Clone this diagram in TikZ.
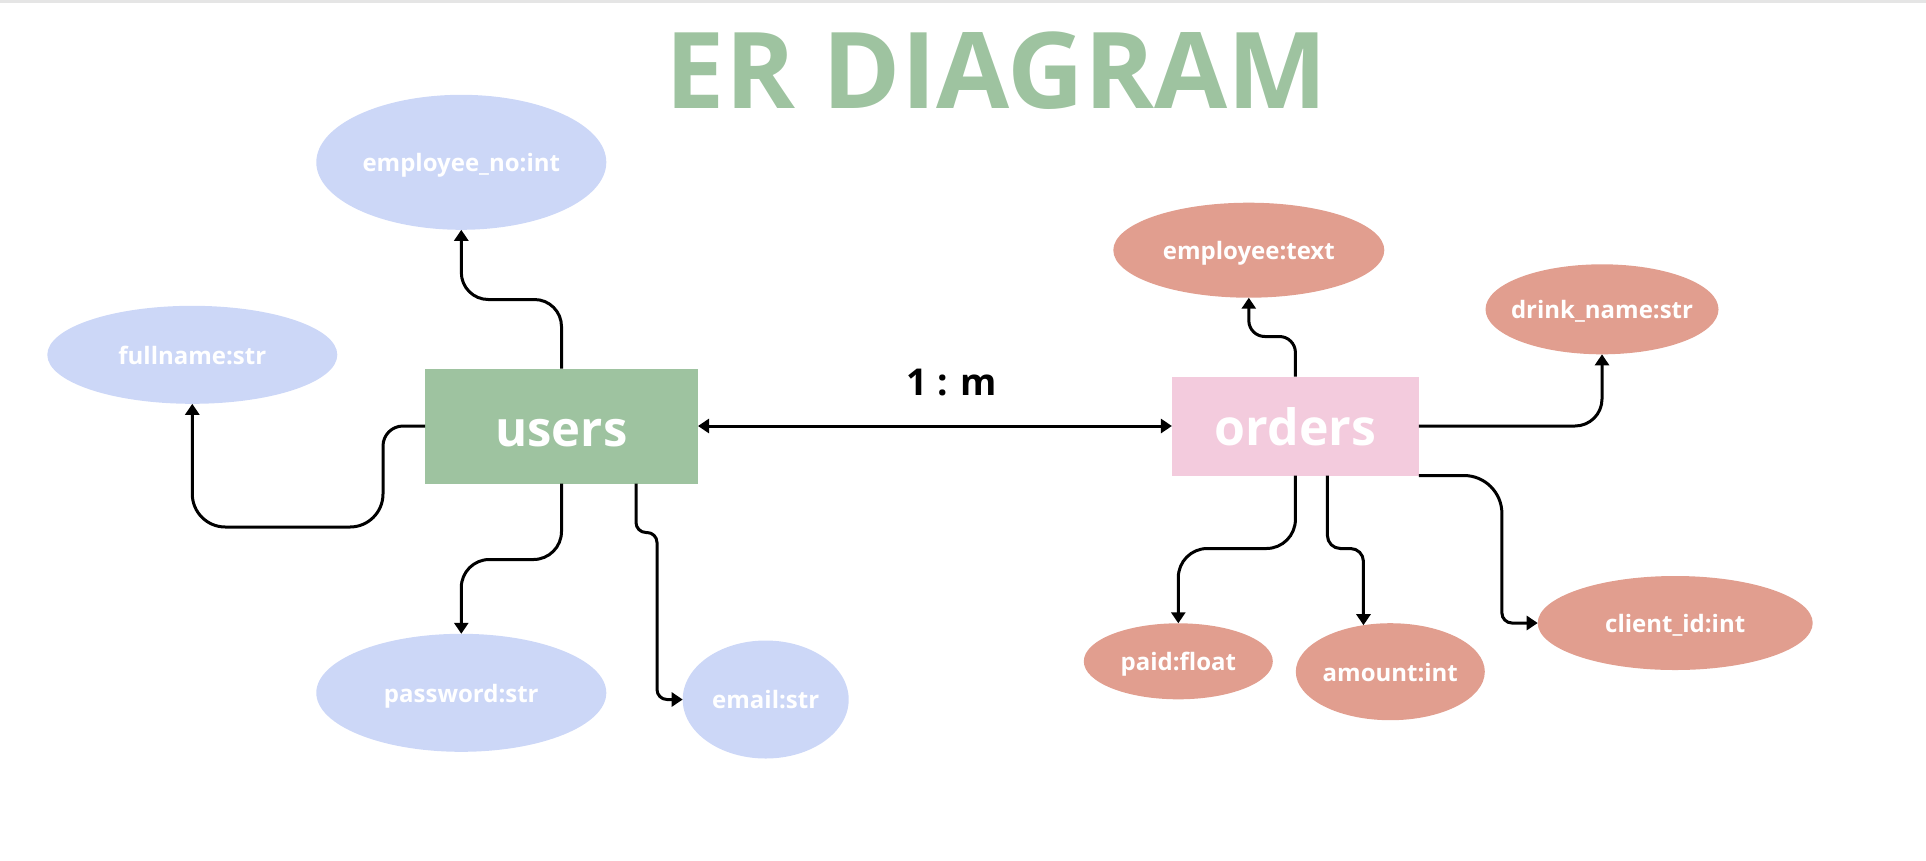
\documentclass[tikz,border=0pt]{standalone}
\usepackage{fontspec}
\setmainfont{Open Sans}
\usepackage{xcolor}
\usetikzlibrary{shapes.geometric, arrows.meta, positioning}
\definecolor{usergreen}{RGB}{158,195,160}
\definecolor{orderpink}{RGB}{243,203,221}
\definecolor{userblue}{RGB}{204,215,247}
\definecolor{ordersalmon}{RGB}{225,158,143}

\begin{document}
\begin{tikzpicture}[x=1pt, y=-1pt,
            >={Triangle[length=11pt, width=14pt]},
            entity/.style={rectangle, text=white, inner sep=0pt, outer sep=0pt, text depth=0pt},
            attr/.style={ellipse, text=white, inner xsep=-20pt, inner ysep=0pt, outer sep=0pt, text height=18.6pt, text depth=0pt,
                         font=\bfseries\fontsize{24}{26}\selectfont},
            userattr/.style={attr, fill=userblue},
            orderattr/.style={attr, fill=ordersalmon},
            link/.style={->, line width=3pt}]
            \useasboundingbox (0,0) rectangle (1926,860);
            \fill[black!10] (0,0) rectangle (1926,3);

            \node[text=usergreen, font=\bfseries\fontsize{106}{110}\selectfont] (title) at (996.5,71) {ER DIAGRAM};

            % entities
            \node[entity, fill=usergreen, minimum width=273pt, minimum height=115pt, text height=41pt,
                  font=\bfseries\fontsize{49}{52}\selectfont] (users) at (561.5,426) {users};
            \node[entity, fill=orderpink, minimum width=247pt, minimum height=99pt, text height=39.4pt,
                  font=\bfseries\fontsize{50}{54}\selectfont] (orders) at (1295.4,426) {orders};

            % users attributes
            \node[userattr, minimum width=290pt, minimum height=135pt] (empno) at (461.3,162.3) {employee\_no:int};
            \node[userattr, minimum width=290pt, minimum height=98pt] (fullname) at (192.3,354.8) {fullname:str};
            \node[userattr, minimum width=290pt, minimum height=118pt] (password) at (461.3,692.8) {password:str};
            \node[userattr, minimum width=166pt, minimum height=118pt] (email) at (765.7,699.5) {email:str};

            % orders attributes
            \node[orderattr, minimum width=271pt, minimum height=95pt] (employee) at (1248.8,250.2) {employee:text};
            \node[orderattr, minimum width=233pt, minimum height=90pt] (drink) at (1602,309.3) {drink\_name:str};
            \node[orderattr, minimum width=275pt, minimum height=94pt] (client) at (1675.2,623) {client\_id:int};
            \node[orderattr, minimum width=189pt, minimum height=76pt] (paid) at (1178.3,661.3) {paid:float};
            \node[orderattr, minimum width=189pt, minimum height=97pt] (amount) at (1390.3,671.7) {amount:int};

            % relation
            \draw[<->, line width=3pt] (users.east) -- (orders.west);
            \node[font=\bfseries\fontsize{37}{40}\selectfont] (card) at (952,383) {1 : m};

            \draw[link, rounded corners=27pt] (users.north) -- ++(0,-69) -| (empno.south);
            \draw[link, rounded corners=20pt] (users.west) -- ++(-42,0) [rounded corners=33pt] -- ++(0,101) -| (fullname.south);
            \draw[link, rounded corners=28pt] (users.south) -- ++(0,76) -| (password.north);
            \draw[link, rounded corners=10pt] ([xshift=-62pt]users.south east) -- ++(0,49) -- ++(21,0) |- (email.west);

            \draw[link, rounded corners=16pt] (orders.north) -- ++(0,-40) -| (employee.south);
            \draw[link, rounded corners=27pt] (orders.east) -| (drink.south);
            \draw[link, rounded corners=38pt] (orders.south east) -- ++(83,0) [rounded corners=10pt] |- (client.west);
            \draw[link, rounded corners=29pt] (orders.south) -- ++(0,73) -| (paid.north);
            \draw[link, rounded corners=13pt] ([xshift=32pt]orders.south) -- ++(0,73) -| (amount.120);
        \end{tikzpicture}
\end{document}
